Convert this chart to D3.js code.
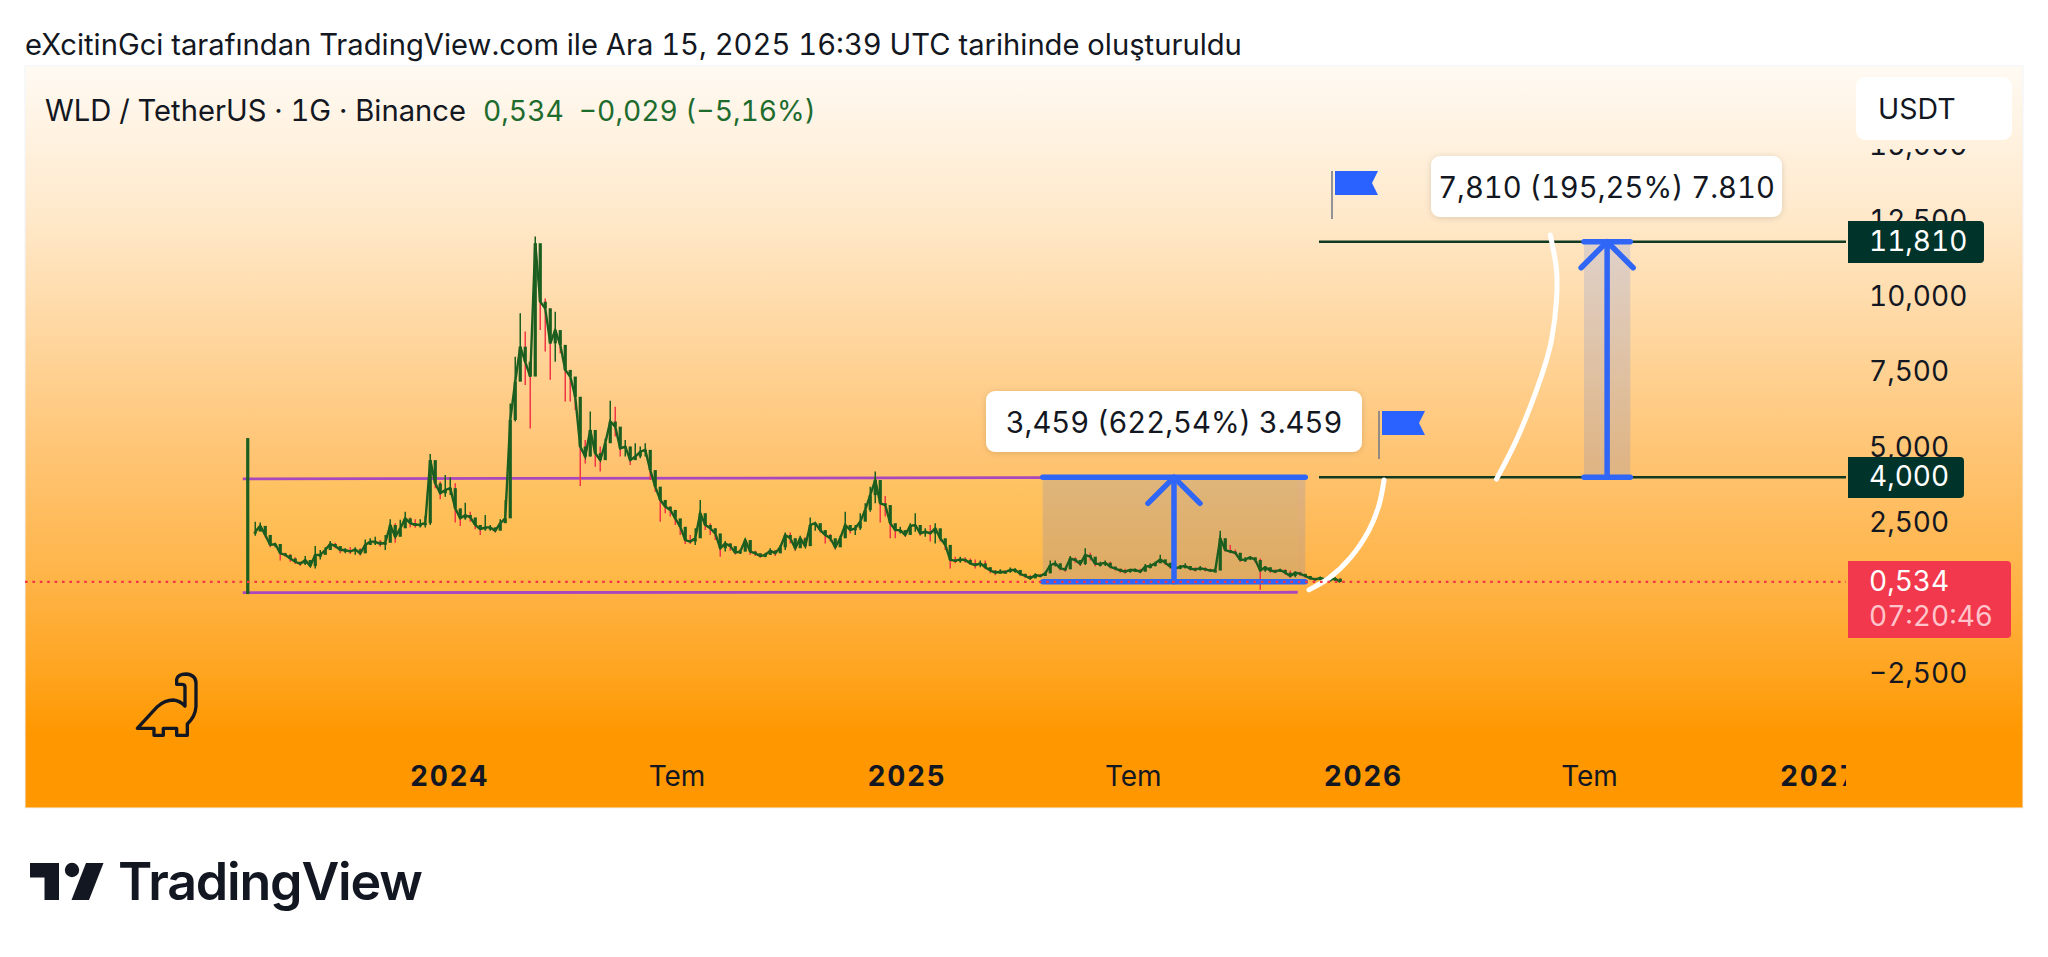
<!DOCTYPE html>
<html>
<head>
<meta charset="utf-8">
<script src="https://cdn.jsdelivr.net/npm/d3@7"></script>
<style>
  html, body { margin: 0; background: #fff; }
  svg { display: block; }
  text { font-family: Inter, "Noto Sans", sans-serif; fill: #131722; font-feature-settings: "tnum" 1; }
</style>
</head>
<body>
<div id="chart"></div>
<script>
// launch candle, listing day
const launchDate = '2023-07-24';
const launchOpen = 0.13, launchHigh = 5.30, launchLow = 0.13, launchClose = 5.30;

// price, one candle every 4 days from here on
const firstDate = '2023-07-30';
const firstOpen = 2.14;
const stepDays = 4;

const closes = [
  2.20,2.39,2.09,1.76,1.79,1.48,1.43,1.31,1.20,1.13,1.26,1.06,1.43,1.43,1.59,1.79,1.72,1.59,1.59,1.54,
  1.61,1.48,1.76,1.87,1.87,1.79,1.83,2.42,2.03,2.31,2.64,2.48,2.42,2.44,2.48,4.57,3.80,3.47,3.58,3.64,
  2.97,2.64,2.75,2.67,2.42,2.28,2.34,2.34,2.23,2.48,2.64,5.90,7.17,8.33,7.83,7.34,11.76,9.82,9.60,8.44,
  8.88,8.39,7.56,7.34,6.67,5.02,4.69,5.57,4.80,4.57,5.13,5.85,5.68,4.96,5.02,4.57,4.69,4.85,4.91,4.24,
  3.69,3.25,3.03,2.92,2.64,2.36,1.92,1.87,1.98,2.81,2.42,2.31,2.14,1.65,1.81,1.72,1.50,1.54,1.92,1.54,
  1.48,1.39,1.43,1.57,1.48,1.68,2.09,1.98,1.65,1.98,1.72,2.42,2.48,2.25,2.09,1.98,1.68,1.98,2.42,2.25,
  2.31,2.53,2.92,3.41,3.91,3.14,3.08,2.48,2.25,2.25,2.09,2.39,2.42,2.14,2.20,2.14,2.31,1.98,1.76,1.26,
  1.24,1.28,1.26,1.15,1.09,1.15,1.02,0.91,0.84,0.87,0.86,0.93,0.93,0.80,0.73,0.65,0.76,0.73,0.82,1.09,
  1.15,0.98,0.95,1.31,1.26,1.13,1.43,1.37,1.13,1.13,1.17,1.04,0.97,0.91,0.88,0.93,0.93,0.87,1.04,1.06,
  1.15,1.28,1.17,1.04,0.97,1.04,1.06,0.97,0.95,0.99,0.95,0.91,0.91,1.98,1.59,1.54,1.50,1.26,1.28,1.35,
  1.26,0.91,1.02,0.91,0.88,0.93,0.84,0.73,0.84,0.80,0.73,0.65,0.62,0.66,0.62,0.62,0.64,0.534
];
const highs = [
  2.53,2.50,2.17,1.92,1.83,1.61,1.50,1.46,1.35,1.20,1.39,1.15,1.72,1.59,1.68,1.89,1.83,1.70,1.65,1.68,
  1.68,1.65,1.94,1.98,2.03,1.92,2.09,2.61,2.48,2.59,2.86,2.67,2.61,2.61,2.72,4.77,4.35,3.86,4.08,4.00,
  3.80,2.97,3.16,2.86,2.61,2.42,2.75,2.42,2.34,2.61,3.25,6.45,8.00,9.44,8.83,7.56,11.98,10.87,9.93,9.60,
  9.49,8.72,8.33,7.45,6.90,6.23,5.24,6.18,5.46,5.02,5.29,6.54,6.34,5.24,5.24,5.02,5.13,5.02,5.13,4.57,
  3.97,3.47,3.16,3.03,2.86,2.59,2.25,2.09,2.31,3.25,2.70,2.48,2.31,1.92,1.89,1.81,1.65,1.61,1.98,1.81,
  1.57,1.48,1.50,1.65,1.59,1.76,2.17,2.17,1.98,2.06,2.01,2.67,2.53,2.42,2.17,2.12,1.87,2.06,2.86,2.42,
  2.42,2.81,3.14,3.69,4.19,3.75,3.38,2.92,2.45,2.36,2.25,2.48,2.81,2.31,2.31,2.42,2.48,2.25,1.90,1.76,
  1.37,1.37,1.35,1.31,1.28,1.24,1.24,1.02,0.93,0.95,0.93,1.01,0.99,0.87,0.80,0.76,0.82,0.80,0.87,1.24,
  1.24,1.09,1.02,1.39,1.35,1.26,1.65,1.50,1.35,1.20,1.24,1.20,1.04,0.98,0.97,0.97,0.98,0.97,1.13,1.15,
  1.20,1.43,1.26,1.15,1.04,1.09,1.15,1.04,1.02,1.06,1.02,0.98,0.98,2.23,1.98,1.76,1.61,1.43,1.35,1.39,
  1.35,1.31,1.06,0.98,0.95,0.97,0.95,0.91,0.88,0.87,0.80,0.73,0.67,0.71,0.66,0.66,0.69,0.66
];
const lows = [
  2.06,2.23,2.01,1.68,1.68,1.24,1.37,1.20,1.13,1.06,1.09,1.02,0.98,1.28,1.48,1.70,1.65,1.48,1.48,1.46,
  1.43,1.41,1.59,1.76,1.76,1.70,1.59,1.92,1.83,2.09,2.34,2.34,2.33,2.34,2.34,2.42,3.64,3.27,3.36,3.41,
  2.50,2.39,2.59,2.53,2.28,2.09,2.23,2.23,2.17,2.34,2.53,4.46,5.85,7.67,7.06,5.62,7.50,8.88,8.17,7.23,
  7.83,8.11,6.51,6.51,6.23,3.71,4.46,4.69,4.35,4.19,4.69,5.29,5.35,4.69,4.69,4.41,4.57,4.63,4.69,3.91,
  3.52,2.53,2.81,2.70,2.42,2.09,1.79,1.79,1.76,2.20,2.25,2.09,1.92,1.37,1.54,1.57,1.44,1.46,1.54,1.43,
  1.39,1.33,1.35,1.43,1.39,1.54,1.59,1.81,1.57,1.68,1.68,1.92,2.23,2.17,1.81,1.87,1.61,1.79,2.09,2.14,
  2.09,2.25,2.59,2.86,3.14,2.50,2.70,1.98,1.98,2.14,2.03,2.12,2.20,2.06,2.03,1.87,1.81,1.87,1.59,0.98,
  1.15,1.17,1.17,1.09,0.98,1.02,0.95,0.82,0.75,0.82,0.81,0.84,0.84,0.73,0.66,0.60,0.69,0.69,0.73,0.82,
  1.04,0.91,0.87,0.98,1.17,1.06,1.09,1.24,1.04,1.04,1.06,0.98,0.91,0.84,0.80,0.84,0.86,0.82,0.95,0.98,
  1.04,1.17,1.09,0.97,0.91,0.95,0.98,0.91,0.88,0.91,0.88,0.86,0.85,0.93,1.54,1.48,1.43,1.20,1.20,1.26,
  1.17,0.27,0.87,0.84,0.82,0.86,0.77,0.66,0.69,0.73,0.66,0.60,0.56,0.60,0.56,0.55,0.57,0.52
];

const yTicks = [-2.5, 2.5, 5, 7.5, 10, 12.5, 15];
const xTickDates = ['2024-01-01','2024-07-01','2025-01-01','2025-07-01','2026-01-01','2026-07-01','2027-01-01'];
const xTickLabels = ['2024','Tem','2025','Tem','2026','Tem','2027'];

// drawings on the chart
const lastPrice = 0.534;
const targetLow = 4.0, targetHigh = 11.81;
const channelDates = ['2023-07-20','2025-11-10'];
const channelTop = [3.95, 4.0];
const channelBottom = [0.18, 0.19];
const box1Dates = ['2025-04-20','2025-11-16'];
const box1Prices = [0.541, 4.0];
const box2Dates = ['2026-06-27','2026-08-03'];
const box2Prices = [4.0, 11.81];
const targetLineStart = '2025-11-27';
const arc1Dates = ['2025-11-19','2025-12-05','2025-12-22','2026-01-06','2026-01-14','2026-01-18'];
const arc1Prices = [0.27, 0.66, 1.33, 2.25, 3.08, 3.91];
const arc2Dates = ['2026-04-18','2026-05-04','2026-05-20','2026-05-28','2026-06-01','2026-06-05','2026-06-05','2026-05-31'];
const arc2Prices = [3.94, 5.24, 6.89, 7.89, 8.55, 9.88, 10.87, 12.03];

const W = 2048, H = 957;
const panel = {left: 25, right: 2023, top: 66, bottom: 808};
const plotRight = 1846;
const parse = d3.utcParse('%Y-%m-%d');

const x = d3.scaleUtc()
  .domain([parse('2024-01-01'), parse('2027-01-01')])
  .range([449, 1819]);

const y = d3.scaleLinear()
  .domain([0, 10])
  .range([598, 296.3]);

const fmtPrice = v => v.toFixed(3).replace('.', ',').replace('-', '\u2212');

const svg = d3.select('#chart').append('svg')
  .attr('width', W)
  .attr('height', H);

const defs = svg.append('defs');

const grad = defs.append('linearGradient')
  .attr('id', 'bg')
  .attr('gradientUnits', 'userSpaceOnUse')
  .attr('x1', 0).attr('x2', 0)
  .attr('y1', panel.top).attr('y2', panel.bottom);
[[0, '#fffaf3'], [0.2, '#ffe9cb'], [0.5, '#ffc77a'], [0.7, '#ffb345'], [0.8, '#ffa726'], [0.9, '#ff9800'], [1, '#ff9800']]
  .forEach(s => grad.append('stop').attr('offset', s[0]).attr('stop-color', s[1]));

const shadow = defs.append('filter')
  .attr('id', 'shadow')
  .attr('x', '-10%').attr('y', '-20%')
  .attr('width', '120%').attr('height', '150%');
shadow.append('feDropShadow')
  .attr('dx', 0).attr('dy', 1)
  .attr('stdDeviation', 3)
  .attr('flood-color', '#000')
  .attr('flood-opacity', 0.14);

defs.append('clipPath').attr('id', 'plotClip').append('rect')
  .attr('x', panel.left).attr('y', panel.top)
  .attr('width', plotRight - panel.left).attr('height', panel.bottom - panel.top);

// header
svg.append('text')
  .attr('x', 25).attr('y', 45).attr('dy', '.35em')
  .style('font-size', '29.2px')
  .text('eXcitinGci tarafından TradingView.com ile Ara 15, 2025 16:39 UTC tarihinde oluşturuldu');

svg.append('rect')
  .attr('x', panel.left).attr('y', panel.top)
  .attr('width', panel.right - panel.left).attr('height', panel.bottom - panel.top)
  .attr('fill', 'url(#bg)')
  .attr('stroke', '#f0f3fa');

svg.append('text')
  .attr('x', 45).attr('y', 111).attr('dy', '.35em')
  .style('font-size', '29.2px')
  .text('WLD / TetherUS · 1G · Binance');

svg.append('text')
  .attr('x', 483).attr('y', 111).attr('dy', '.35em')
  .style('font-size', '28.2px')
  .style('fill', '#1e6b2e')
  .attr('xml:space', 'preserve')
  .text('0,534  \u22120,029 (\u22125,16%)');

// axes
defs.append('clipPath').attr('id', 'yClip').append('rect')
  .attr('x', -20).attr('y', 149)
  .attr('width', 170).attr('height', 640);

const yAxis = svg.append('g')
  .attr('transform', 'translate(1869,0)')
  .attr('clip-path', 'url(#yClip)')
  .call(d3.axisRight(y).tickValues(yTicks).tickSize(0).tickPadding(0)
    .tickFormat(fmtPrice));
yAxis.select('.domain').remove();
yAxis.selectAll('text')
  .attr('x', 0)
  .style('font-size', '28px')
  .style('font-family', 'Inter')
  .style('fill', '#131722');

defs.append('clipPath').attr('id', 'xAxisClip').append('rect')
  .attr('x', panel.left).attr('y', -30)
  .attr('width', plotRight - panel.left).attr('height', 60);

const xAxis = svg.append('g')
  .attr('transform', 'translate(0,776)')
  .attr('clip-path', 'url(#xAxisClip)')
  .call(d3.axisBottom(x).tickValues(xTickDates.map(parse)).tickSize(0).tickPadding(0)
    .tickFormat((d, i) => xTickLabels[i]));
xAxis.select('.domain').remove();
xAxis.selectAll('text')
  .attr('y', 0).attr('dy', '.35em')
  .style('font-family', 'Inter')
  .style('font-size', '28px')
  .style('fill', '#131722')
  .style('font-weight', (d, i) => i % 2 ? 400 : 700)
  .style('letter-spacing', (d, i) => i % 2 ? '0' : '1.6px');

const plot = svg.append('g').attr('clip-path', 'url(#plotClip)');

// channel
const channel = plot.append('g');
channel.append('rect')
  .attr('x', x(parse(channelDates[0])))
  .attr('y', y(channelTop[1]))
  .attr('width', x(parse(channelDates[1])) - x(parse(channelDates[0])))
  .attr('height', y(channelBottom[0]) - y(channelTop[1]))
  .attr('fill', '#ffd83c')
  .attr('opacity', 0.12);
[channelTop, channelBottom].forEach(p => {
  channel.append('line')
    .attr('x1', x(parse(channelDates[0]))).attr('x2', x(parse(channelDates[1])))
    .attr('y1', y(p[0])).attr('y2', y(p[1]))
    .attr('stroke', '#ab47bc')
    .attr('stroke-width', 2.8);
});

// boxes under the candles
const boxes = [
  {dates: box1Dates, prices: box1Prices},
  {dates: box2Dates, prices: box2Prices}
];
boxes.forEach(b => {
  const x0 = x(parse(b.dates[0])), x1 = x(parse(b.dates[1]));
  plot.append('rect')
    .attr('x', x0).attr('y', y(b.prices[1]))
    .attr('width', x1 - x0).attr('height', y(b.prices[0]) - y(b.prices[1]))
    .attr('fill', '#2962ff')
    .attr('opacity', 0.15);
});

// target lines
[targetLow, targetHigh].forEach(p => {
  plot.append('line')
    .attr('x1', x(parse(targetLineStart))).attr('x2', plotRight)
    .attr('y1', y(p)).attr('y2', y(p))
    .attr('stroke', '#123a20')
    .attr('stroke-width', 2.4);
});

// candles
const candles = closes.map((c, i) => ({
  date: d3.utcDay.offset(parse(firstDate), i * stepDays),
  open: i ? closes[i - 1] : firstOpen,
  high: highs[i],
  low: lows[i],
  close: c
}));
candles.unshift({date: parse(launchDate), open: launchOpen, high: launchHigh, low: launchLow, close: launchClose});

const candleG = plot.append('g');
candleG.selectAll('line')
  .data(candles)
  .join('line')
    .attr('x1', d => x(d.date)).attr('x2', d => x(d.date))
    .attr('y1', d => y(d.high)).attr('y2', d => y(d.low))
    .attr('stroke', d => d.close < d.open ? '#f23645' : '#1b5e20')
    .attr('stroke-width', 1.5);

candleG.append('path')
  .datum(candles.slice(1))
  .attr('fill', 'none')
  .attr('stroke', '#1b5e20')
  .attr('stroke-width', 2.4)
  .attr('d', d3.line().x(d => x(d.date)).y(d => y(d.close)));

candleG.selectAll('rect')
  .data(candles)
  .join('rect')
    .attr('x', d => x(d.date) - 1.6)
    .attr('width', 3.2)
    .attr('y', d => y(Math.max(d.open, d.close)))
    .attr('height', d => Math.max(2, Math.abs(y(d.open) - y(d.close))))
    .attr('fill', '#1b5e20');

// white arcs
const arcLine = d3.line().curve(d3.curveCatmullRom);
[[arc1Dates, arc1Prices], [arc2Dates, arc2Prices]].forEach(a => {
  plot.append('path')
    .attr('d', arcLine(a[0].map((d, i) => [x(parse(d)), y(a[1][i])])))
    .attr('fill', 'none')
    .attr('stroke', '#fff')
    .attr('stroke-width', 5)
    .attr('stroke-linecap', 'round');
});

// box edges and arrows
boxes.forEach(b => {
  const x0 = x(parse(b.dates[0])), x1 = x(parse(b.dates[1]));
  const xm = (x0 + x1) / 2;
  const top = y(b.prices[1]), bot = y(b.prices[0]);
  const g = plot.append('g')
    .attr('stroke', '#2f66f5')
    .attr('fill', 'none')
    .attr('stroke-linecap', 'round')
    .attr('stroke-linejoin', 'round');
  [top, bot].forEach(v => {
    g.append('line')
      .attr('x1', x0).attr('x2', x1)
      .attr('y1', v).attr('y2', v)
      .attr('stroke-width', 5.5);
  });
  g.append('line')
    .attr('x1', xm).attr('x2', xm)
    .attr('y1', bot).attr('y2', top)
    .attr('stroke-width', 5.5);
  g.append('path')
    .attr('d', d3.line()([[xm - 26, top + 26], [xm, top], [xm + 26, top + 26]]))
    .attr('stroke-width', 5.5);
});

// last price
plot.append('line')
  .attr('x1', panel.left).attr('x2', plotRight)
  .attr('y1', y(lastPrice)).attr('y2', y(lastPrice))
  .attr('stroke', '#f23645')
  .attr('stroke-width', 2.4)
  .attr('stroke-dasharray', '2.6 4.8');

// callouts
const callouts = [
  {text: '3,459 (622,54%) 3.459', x: 986, y: 391, w: 376, h: 61},
  {text: '7,810 (195,25%) 7.810', x: 1431, y: 156, w: 351, h: 61}
];
callouts.forEach(c => {
  svg.append('rect')
    .attr('x', c.x).attr('y', c.y)
    .attr('width', c.w).attr('height', c.h)
    .attr('rx', 9)
    .attr('fill', '#fff')
    .attr('filter', 'url(#shadow)');
  svg.append('text')
    .attr('x', c.x + c.w / 2).attr('y', c.y + c.h / 2 + 1).attr('dy', '.35em')
    .attr('text-anchor', 'middle')
    .style('font-size', '29.2px')
    .text(c.text);
});

// flags
[[1332, 171], [1379, 411]].forEach(f => {
  const g = svg.append('g').attr('transform', `translate(${f[0]},${f[1]})`);
  g.append('line')
    .attr('x1', 0).attr('x2', 0)
    .attr('y1', 0).attr('y2', 48)
    .attr('stroke', '#787b86')
    .attr('stroke-width', 1.6);
  g.append('path')
    .attr('d', 'M3,0H46L40,12L46,24H3Z')
    .attr('fill', '#2962ff');
});

// price labels
const priceLabels = [
  {text: '11,810', x: 1848, y: 221, w: 136, h: 42, fill: '#00332a'},
  {text: '4,000', x: 1848, y: 457, w: 116, h: 41, fill: '#00332a'}
];
priceLabels.forEach(l => {
  svg.append('path')
    .attr('d', `M${l.x},${l.y}h${l.w - 4}a4,4 0 0 1 4,4v${l.h - 8}a4,4 0 0 1 -4,4h${-(l.w - 4)}z`)
    .attr('fill', l.fill);
  svg.append('text')
    .attr('x', 1869).attr('y', l.y + l.h / 2 - 1).attr('dy', '.35em')
    .style('font-size', '28px')
    .style('fill', '#fff')
    .text(l.text);
});

svg.append('path')
  .attr('d', 'M1848,561h159a4,4 0 0 1 4,4v69a4,4 0 0 1 -4,4h-159z')
  .attr('fill', '#f2384c');
svg.append('text')
  .attr('x', 1869).attr('y', 581).attr('dy', '.35em')
  .style('font-size', '28px')
  .style('fill', '#fff')
  .text(fmtPrice(lastPrice));
svg.append('text')
  .attr('x', 1869).attr('y', 616).attr('dy', '.35em')
  .style('font-size', '28px')
  .style('fill', '#ffc4cb')
  .text('07:20:46');

// currency button
svg.append('rect')
  .attr('x', 1856).attr('y', 77)
  .attr('width', 156).attr('height', 63)
  .attr('rx', 9)
  .attr('fill', '#fff');
svg.append('text')
  .attr('x', 1878).attr('y', 109).attr('dy', '.35em')
  .style('font-size', '28.5px')
  .text('USDT');

// dinosaur
svg.append('path')
  .attr('transform', 'translate(0,650) scale(0.3333)')
  .attr('d', 'M412,235 L472,170 Q495,150 520,150 Q540,152 555,168 V110 Q555,103 545,103 H530 V88 Q534,72 558,72 Q588,74 588,100 V170 Q586,200 562,222 V256 H530 V235 H490 V256 H462 V235 Z')
  .attr('fill', 'none')
  .attr('stroke', '#131722')
  .attr('stroke-width', 10)
  .attr('stroke-linejoin', 'round');

// logo
const logo = svg.append('g').attr('fill', '#131722');
logo.append('path').attr('d', 'M30,863H59V900H44.500V877.500H30Z');
logo.append('circle').attr('cx', 72).attr('cy', 870).attr('r', 7.2);
logo.append('path').attr('d', 'M86,863H103.500L89,900H71.500Z');
svg.append('text')
  .attr('x', 118).attr('y', 900)
  .style('font-size', '52px')
  .style('font-weight', 600)
  .style('letter-spacing', '-1.2px')
  .text('TradingView');
</script>
</body>
</html>
